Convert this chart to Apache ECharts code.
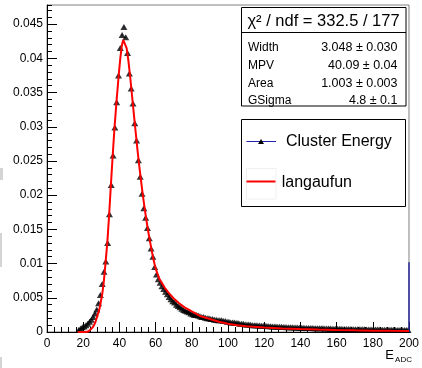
<!DOCTYPE html>
<html><head><meta charset="utf-8">
<script src="https://cdn.jsdelivr.net/npm/echarts@6/dist/echarts.min.js"></script>
<style>html,body{margin:0;padding:0;background:#fff}#c{width:422px;height:368px}</style>
</head><body><div id="c"></div>
<script>
// Histogram: bins of width 1 starting at 17 (bin centers 17.5 ... 199.5)
const binLow = 17;
const binWidth = 1;
const clusterEnergy = [
  0.0003, 0.0005, 0.0007, 0.0008, 0.0010, 0.0012, 0.0015, 0.0018, 0.0022, 0.0027,   // 17.5-26.5
  0.0033, 0.0042, 0.0054, 0.0070, 0.0088, 0.0103, 0.0130, 0.0172, 0.0215, 0.0258,   // 27.5-36.5
  0.0299, 0.0336, 0.0375, 0.0415, 0.0434, 0.0446, 0.0431, 0.0408, 0.0378, 0.0356,   // 37.5-46.5
  0.0334, 0.0305, 0.0280, 0.0251, 0.0227, 0.0202, 0.0181, 0.0167, 0.0152, 0.0137,   // 47.5-56.5
  0.0122, 0.0110, 0.0095, 0.0084, 0.0077, 0.0072, 0.0067, 0.0063, 0.0059, 0.0055,   // 57.5-66.5
  0.0051, 0.0048, 0.0045, 0.0043, 0.0040, 0.0038, 0.0036, 0.0034, 0.0032, 0.0031,   // 67.5-76.5
  0.0030, 0.0029, 0.0027, 0.0026, 0.0025, 0.0025, 0.0024, 0.0023, 0.0022, 0.0022,   // 77.5-86.5
  0.0021, 0.0020, 0.0020, 0.0019, 0.0019, 0.0018, 0.0018, 0.0017, 0.0017, 0.0017,   // 87.5-96.5
  0.0016, 0.0016, 0.0015, 0.0015, 0.0014, 0.0014, 0.0014, 0.0013, 0.0013, 0.0012,   // 97.5-106.5
  0.0012, 0.0012, 0.0011, 0.0011, 0.0011, 0.00105, 0.0010, 0.0010, 0.00098, 0.00095, // 107.5-116.5
  0.00094, 0.00092, 0.0009, 0.00088, 0.00087, 0.00085, 0.00084, 0.00082, 0.00081, 0.00079, // 117.5-126.5
  0.00078, 0.00077, 0.00075, 0.00074, 0.00073, 0.00071, 0.0007, 0.00069, 0.00068, 0.00067, // 127.5-136.5
  0.00066, 0.00065, 0.00063, 0.00063, 0.00062, 0.0006, 0.0006, 0.00059, 0.00058, 0.00057, // 137.5-146.5
  0.00056, 0.00056, 0.00055, 0.00054, 0.00053, 0.00053, 0.00052, 0.00051, 0.0005, 0.0005, // 147.5-156.5
  0.00049, 0.00048, 0.00048, 0.00047, 0.00047, 0.00046, 0.00045, 0.00045, 0.00044, 0.00044, // 157.5-166.5
  0.00043, 0.00042, 0.00042, 0.00041, 0.00041, 0.0004, 0.0004, 0.00039, 0.00039, 0.00038, // 167.5-176.5
  0.00038, 0.00037, 0.00037, 0.00036, 0.00036, 0.00035, 0.00035, 0.00034, 0.00034, 0.00034, // 177.5-186.5
  0.00033, 0.00033, 0.00032, 0.00032, 0.00032, 0.00031, 0.00031, 0.0003, 0.0003, 0.0003,   // 187.5-196.5
  0.00029, 0.00029, 0.00028                                                                // 197.5-199.5
];
// Fit function (langaufun) sampled points
const fitX = [17, 20, 21.7, 23, 24, 25, 26, 26.8, 28, 29, 29.5, 30.5, 31.4, 32.3, 33.3, 34.3, 35.3, 36.3, 37.3, 38.5,
  39.6, 40.5, 41.3, 42.1, 43, 44, 45, 46, 47, 48, 49, 50, 51, 52, 53, 54, 55, 56, 57, 58, 59, 60, 62, 65, 67, 70, 73, 76,
  80, 85, 90, 95, 100, 105, 110, 120, 130, 140, 150, 160, 170, 180, 190, 200];
const fitY = [0, 0, 0, 0.0001, 0.0003, 0.0006, 0.0010, 0.0015, 0.0025, 0.0034, 0.0041, 0.0055, 0.0074, 0.0100, 0.0130, 0.0170, 0.0215, 0.0258, 0.0299, 0.0340,
  0.0375, 0.0400, 0.0418, 0.0427, 0.0425, 0.0415, 0.0396, 0.0372, 0.0345, 0.0318, 0.0292, 0.0266, 0.0242, 0.0220, 0.0199, 0.0180, 0.0162, 0.0146, 0.0131, 0.0117, 0.0104, 0.0093, 0.0078, 0.0065, 0.0058, 0.0049, 0.0042, 0.0036,
  0.0030, 0.0023, 0.0019, 0.0015, 0.0012, 0.0010, 0.00085, 0.00065, 0.00052, 0.00043, 0.00035, 0.00029, 0.00024, 0.0002, 0.00017, 0.00015];
// last-bin line at the right edge
const edgeLineX = [200, 200];
const edgeLineY = [0, 0.0102];

const xMin = 0, xMax = 200, xMajor = 20, xMinor = 4;
const yMin = 0, yMax = 0.0478, yMajor = 0.005, yMinor = 0.001;

const statsTitle = 'χ² / ndf = 332.5 / 177';
const statNames = ['Width', 'MPV', 'Area', 'GSigma'];
const statValues = ['3.048 ± 0.030', '40.09 ± 0.04', '1.003 ± 0.003', '4.8 ± 0.1'];
const legendNames = ['Cluster Energy', 'langaufun'];
const axisTitleMain = 'E';
const axisTitleSub = 'ADC';

const FONT = '"Liberation Sans", Arial, Helvetica, sans-serif';
const histPoints = clusterEnergy.map((v, i) => [binLow + (i + 0.5) * binWidth, v]);
const fitPoints = fitX.map((x, i) => [x, fitY[i]]);
const edgePoints = edgeLineX.map((x, i) => [x, edgeLineY[i]]);

const chart = echarts.init(document.getElementById('c'), null, {renderer: 'canvas'});

const statRowsY = [48, 65.7, 83.7, 101];
const graphics = [
  // small grey marks at the left edge of the reference picture
  {type: 'rect', shape: {x: 0, y: 168, width: 3, height: 12}, style: {fill: '#d4d4d4'}, z: 1},
  {type: 'rect', shape: {x: 0, y: 233, width: 2, height: 34}, style: {fill: '#d4d4d4'}, z: 1},
  {type: 'rect', shape: {x: 0, y: 357, width: 2, height: 11}, style: {fill: '#d4d4d4'}, z: 1},
  // stats box
  {type: 'rect', shape: {x: 241.5, y: 7.5, width: 164.5, height: 98.5}, style: {fill: '#fff', stroke: '#000', lineWidth: 1}, z: 100},
  {type: 'line', shape: {x1: 241.5, y1: 32.5, x2: 406, y2: 32.5}, style: {stroke: '#000', lineWidth: 1}, z: 101},
  {type: 'text', x: 323.5, y: 21, style: {text: statsTitle, font: '16.5px ' + FONT, fill: '#000', align: 'center', verticalAlign: 'middle'}, z: 101},
  // legend box
  {type: 'rect', shape: {x: 241.5, y: 119.5, width: 164, height: 87}, style: {fill: '#fff', stroke: '#000', lineWidth: 1}, z: 100},
  {type: 'rect', shape: {x: 246.5, y: 168.5, width: 29.5, height: 30.5}, style: {fill: 'none', stroke: '#f0f0f0', lineWidth: 1}, z: 101},
  {type: 'line', shape: {x1: 246.5, y1: 141.5, x2: 276, y2: 141.5}, style: {stroke: '#2222b0', lineWidth: 1}, z: 101},
  {type: 'polygon', shape: {points: [[258, 144], [264, 144], [261, 139]]}, style: {fill: '#000'}, z: 102},
  {type: 'line', shape: {x1: 246.5, y1: 181.5, x2: 275.5, y2: 181.5}, style: {stroke: '#ff0000', lineWidth: 2}, z: 101},
  {type: 'text', x: 286, y: 141.7, style: {text: legendNames[0], font: '16px ' + FONT, fill: '#000', align: 'left', verticalAlign: 'middle'}, z: 101},
  {type: 'text', x: 281.7, y: 182.7, style: {text: legendNames[1], font: '16px ' + FONT, fill: '#000', align: 'left', verticalAlign: 'middle'}, z: 101},
  // axis title
  {type: 'text', x: 394, y: 355.5, style: {text: axisTitleMain, font: '13px ' + FONT, fill: '#000', align: 'right', verticalAlign: 'middle'}, z: 101},
  {type: 'text', x: 412, y: 359.5, style: {text: axisTitleSub, font: '8px ' + FONT, fill: '#000', align: 'right', verticalAlign: 'middle'}, z: 101}
];
statNames.forEach((n, i) => {
  graphics.push({type: 'text', x: 248, y: statRowsY[i], style: {text: n, font: '12px ' + FONT, fill: '#000', align: 'left', verticalAlign: 'middle'}, z: 101});
  graphics.push({type: 'text', x: 397.5, y: statRowsY[i], style: {text: statValues[i], font: '12.5px ' + FONT, fill: '#000', align: 'right', verticalAlign: 'middle'}, z: 101});
});

const option = {
  animation: false,
  backgroundColor: '#fff',
  grid: {left: 47, right: 9, top: 5, bottom: 36, show: true, borderColor: '#808080', borderWidth: 1, backgroundColor: 'transparent'},
  xAxis: [
    {type: 'value', min: xMin, max: xMax, interval: xMajor, position: 'bottom',
     axisLine: {show: true, onZero: false, lineStyle: {color: '#000', width: 1}},
     axisTick: {show: true, inside: true, length: 10, lineStyle: {color: '#000'}},
     axisLabel: {show: true, margin: 6, fontSize: 12, fontFamily: FONT, color: '#000'},
     splitLine: {show: false}},
    {type: 'value', min: xMin, max: xMax, interval: xMinor, position: 'bottom',
     axisLine: {show: false, onZero: false},
     axisTick: {show: true, inside: true, length: 5, lineStyle: {color: '#000'}},
     axisLabel: {show: false}, splitLine: {show: false}}
  ],
  yAxis: [
    {type: 'value', min: yMin, max: yMax, interval: yMajor, position: 'left',
     axisLine: {show: true, onZero: false, lineStyle: {color: '#000', width: 1}},
     axisTick: {show: true, inside: true, length: 10, lineStyle: {color: '#000'}},
     axisLabel: {show: true, margin: 4, fontSize: 12, fontFamily: FONT, color: '#000', showMaxLabel: false},
     splitLine: {show: false}},
    {type: 'value', min: yMin, max: yMax, interval: yMinor, position: 'left', offset: 0,
     axisLine: {show: false, onZero: false},
     axisTick: {show: true, inside: true, length: 5, lineStyle: {color: '#000'}},
     axisLabel: {show: false}, splitLine: {show: false}}
  ],
  series: [
    {type: 'custom', xAxisIndex: 0, yAxisIndex: 0, z: 2, data: histPoints,
     renderItem: function (params, api) {
       const x = api.value(0), y = api.value(1);
       const p1 = api.coord([x - binWidth / 2, y]);
       const p2 = api.coord([x + binWidth / 2, y]);
       return {type: 'line', shape: {x1: p1[0], y1: p1[1], x2: p2[0], y2: p2[1]}, style: {stroke: '#2222c0', lineWidth: 1}};
     }},
    {type: 'scatter', xAxisIndex: 0, yAxisIndex: 0, z: 3, data: histPoints, symbol: 'triangle', symbolSize: [7, 6],
     itemStyle: {color: '#000'}},
    {type: 'line', xAxisIndex: 0, yAxisIndex: 0, z: 4, data: edgePoints, showSymbol: false, symbol: 'none',
     lineStyle: {color: '#2a2a9a', width: 1.5}},
    {type: 'line', xAxisIndex: 0, yAxisIndex: 0, z: 5, data: fitPoints, showSymbol: false, symbol: 'none',
     lineStyle: {color: '#ff0000', width: 2}}
  ],
  graphic: graphics
};
chart.setOption(option);
</script>
</body></html>
